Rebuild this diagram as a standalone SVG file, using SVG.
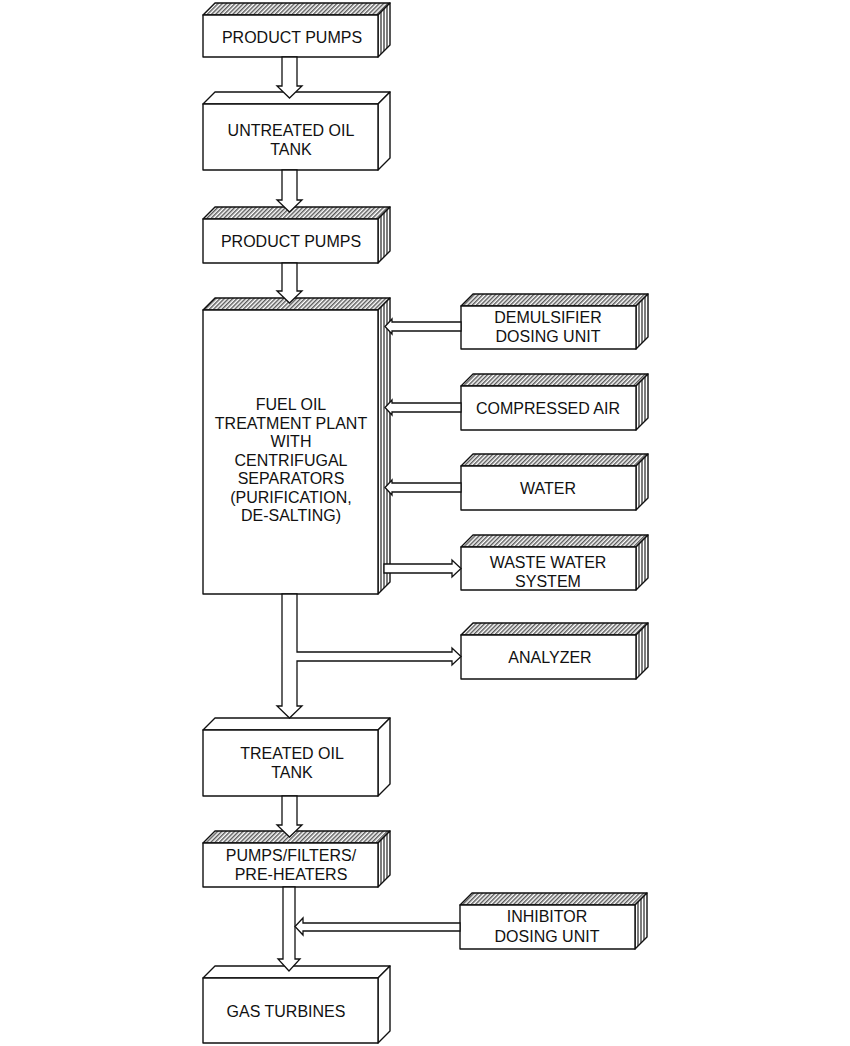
<svg xmlns="http://www.w3.org/2000/svg" width="850" height="1046" viewBox="0 0 850 1046">
<defs>
<pattern id="hatch" patternUnits="userSpaceOnUse" width="3" height="3" patternTransform="rotate(45)">
<rect width="3" height="3" fill="#fff"/>
<line x1="0.8" y1="0" x2="0.8" y2="3" stroke="#222" stroke-width="1.1"/>
</pattern>
</defs>
<style>
.f{fill:#fff;stroke:#111;stroke-width:1.4;stroke-linejoin:round}
.h{fill:url(#hatch);stroke:#111;stroke-width:1.4;stroke-linejoin:round}
.p{stroke:#111;stroke-width:1.1;fill:none}
.c{fill:#fff;stroke:#111;stroke-width:1.3;stroke-linejoin:miter}
text{font-family:"Liberation Sans",Arial,sans-serif;font-size:16px;fill:#111;text-anchor:middle}
</style>
<rect width="850" height="1046" fill="#fff"/>

<g id="product-pumps-1">
<polygon class="h" points="203,15 215,3 390,3 378,15"/>
<polygon class="f" points="378,15 390,3 390,45 378,57"/>
<path class="p" d="M381,12V54M384,9V51M387,6V48"/>
<rect class="f" x="203" y="15" width="175" height="42"/>
<text x="292" y="43">PRODUCT PUMPS</text>
</g>

<g id="untreated-oil-tank">
<polygon class="f" points="203,104 215,92 390,92 378,104"/>
<polygon class="f" points="378,104 390,92 390,158 378,170"/>
<rect class="f" x="203" y="104" width="175" height="66"/>
<text x="291" y="136">UNTREATED OIL</text>
<text x="291" y="155">TANK</text>
</g>

<g id="product-pumps-2">
<polygon class="h" points="203,219 215,207 390,207 378,219"/>
<polygon class="f" points="378,219 390,207 390,251 378,263"/>
<path class="p" d="M381,216V260M384,213V257M387,210V254"/>
<rect class="f" x="203" y="219" width="175" height="44"/>
<text x="291" y="247">PRODUCT PUMPS</text>
</g>

<g id="fuel-oil-treatment-plant">
<polygon class="h" points="203,310 215,298 390,298 378,310"/>
<polygon class="f" points="378,310 390,298 390,582 378,594"/>
<path class="p" d="M381,307V591M384,304V588M387,301V585"/>
<rect class="f" x="203" y="310" width="175" height="284"/>
<text x="291" y="410">FUEL OIL</text>
<text x="291" y="428.5">TREATMENT PLANT</text>
<text x="291" y="447">WITH</text>
<text x="291" y="465.5">CENTRIFUGAL</text>
<text x="291" y="484">SEPARATORS</text>
<text x="291" y="502.5">(PURIFICATION,</text>
<text x="291" y="521">DE-SALTING)</text>
</g>

<g id="treated-oil-tank">
<polygon class="f" points="203,730 215,718 390,718 378,730"/>
<polygon class="f" points="378,730 390,718 390,784 378,796"/>
<rect class="f" x="203" y="730" width="175" height="66"/>
<text x="292" y="759">TREATED OIL</text>
<text x="292" y="778">TANK</text>
</g>

<g id="pumps-filters-preheaters">
<polygon class="h" points="203,843 215,831 390,831 378,843"/>
<polygon class="f" points="378,843 390,831 390,875 378,887"/>
<path class="p" d="M381,840V884M384,837V881M387,834V878"/>
<rect class="f" x="203" y="843" width="175" height="44"/>
<text x="291" y="861">PUMPS/FILTERS/</text>
<text x="291" y="880">PRE-HEATERS</text>
</g>

<g id="gas-turbines">
<polygon class="f" points="203,978 215,966 390,966 378,978"/>
<polygon class="f" points="378,978 390,966 390,1031 378,1043"/>
<rect class="f" x="203" y="978" width="175" height="65"/>
<text x="286" y="1017">GAS TURBINES</text>
</g>

<g id="demulsifier-dosing-unit">
<polygon class="h" points="461,306 473,294 648,294 636,306"/>
<polygon class="f" points="636,306 648,294 648,337 636,349"/>
<path class="p" d="M639,303V346M642,300V343M645,297V340"/>
<rect class="f" x="461" y="306" width="175" height="43"/>
<text x="548" y="323">DEMULSIFIER</text>
<text x="548" y="342">DOSING UNIT</text>
</g>

<g id="compressed-air">
<polygon class="h" points="461,386 473,374 648,374 636,386"/>
<polygon class="f" points="636,386 648,374 648,418 636,430"/>
<path class="p" d="M639,383V427M642,380V424M645,377V421"/>
<rect class="f" x="461" y="386" width="175" height="44"/>
<text x="548" y="414">COMPRESSED AIR</text>
</g>

<g id="water">
<polygon class="h" points="461,466 473,454 648,454 636,466"/>
<polygon class="f" points="636,466 648,454 648,498 636,510"/>
<path class="p" d="M639,463V507M642,460V504M645,457V501"/>
<rect class="f" x="461" y="466" width="175" height="44"/>
<text x="548" y="494">WATER</text>
</g>

<g id="waste-water-system">
<polygon class="h" points="461,547 473,535 648,535 636,547"/>
<polygon class="f" points="636,547 648,535 648,578 636,590"/>
<path class="p" d="M639,544V587M642,541V584M645,538V581"/>
<rect class="f" x="461" y="547" width="175" height="43"/>
<text x="548" y="568">WASTE WATER</text>
<text x="548" y="587">SYSTEM</text>
</g>

<g id="analyzer">
<polygon class="h" points="461,635 473,623 648,623 636,635"/>
<polygon class="f" points="636,635 648,623 648,667 636,679"/>
<path class="p" d="M639,632V676M642,629V673M645,626V670"/>
<rect class="f" x="461" y="635" width="175" height="44"/>
<text x="550" y="663">ANALYZER</text>
</g>

<g id="inhibitor-dosing-unit">
<polygon class="h" points="460,905 472,893 647,893 635,905"/>
<polygon class="f" points="635,905 647,893 647,937 635,949"/>
<path class="p" d="M638,902V946M641,899V943M644,896V940"/>
<rect class="f" x="460" y="905" width="175" height="44"/>
<text x="547" y="922">INHIBITOR</text>
<text x="547" y="942">DOSING UNIT</text>
</g>

<g id="connectors">
<polygon class="c" points="282,57 282,86 277,86 289.5,98 302,86 297,86 297,57"/>
<polygon class="c" points="282,170 282,200 277,200 289.5,212 302,200 297,200 297,170"/>
<polygon class="c" points="282,263 282,291 277,291 289.5,303 302,291 297,291 297,263"/>
<polygon class="c" points="282,594 282,706 277,706 289.5,718 302,706 297,706 297,661 452,661 452,665 461,656.5 452,648 452,652 297,652 297,594"/>
<polygon class="c" points="282,796 282,825 277,825 289.5,837 302,825 297,825 297,796"/>
<polygon class="c" points="283,887 283,959 278,959 289,971 300,959 295,959 295,887"/>
<polygon class="c" points="461,322 392,322 392,319 385,326.5 392,334 392,331 461,331"/>
<polygon class="c" points="461,403 392,403 392,400 385,407.5 392,415 392,412 461,412"/>
<polygon class="c" points="461,483 392,483 392,480 385,487.5 392,495 392,492 461,492"/>
<polygon class="c" points="384,564 452,564 452,560 461,568.5 452,577 452,573 384,573"/>
<polygon class="c" points="460,923 303,923 303,918 295,926.5 303,935 303,931 460,931"/>
</g>
</svg>
